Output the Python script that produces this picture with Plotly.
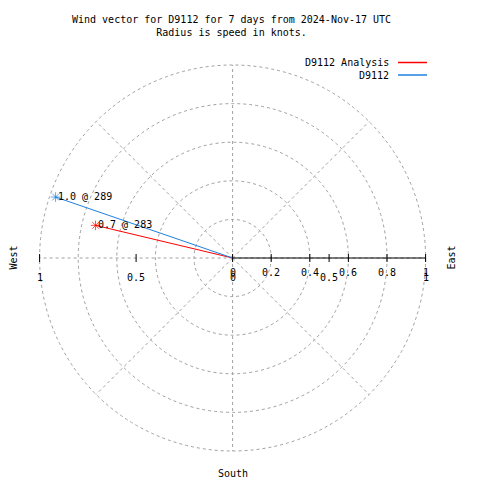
import math
import plotly.graph_objects as go

# ---- data ----
series_names = ["D9112 Analysis", "D9112"]
series_colors = ["#ff0000", "#1e80e0"]
speeds = [0.73, 0.97]          # knots
directions = [283.4, 289.0]    # degrees, compass (clockwise from north)

r_grid = [0.2, 0.4, 0.6, 0.8, 1.0]
spoke_angles = [0, 45, 90, 135, 180, 225, 270, 315]
r_ticks = [0, 0.2, 0.4, 0.6, 0.8, 1]
r_tick_labels = ["0", "0.2", "0.4", "0.6", "0.8", "1"]
x_ticks = [-1, -0.5, 0, 0.5, 1]
x_tick_labels = ["1", "0.5", "0", "0.5", "1"]

title_text = "Wind vector for D9112 for 7 days from 2024-Nov-17 UTC<br>Radius is speed in knots."

FONT = "DejaVu Sans Mono"
GRID = "#a0a0a0"

fig = go.Figure()

# vectors
for name, col, sp, d in zip(series_names, series_colors, speeds, directions):
    th = math.radians(d)
    x = sp * math.sin(th)
    y = sp * math.cos(th)
    fig.add_trace(go.Scatter(
        x=[0, x], y=[0, y], mode="lines+markers", name=name,
        line=dict(color=col, width=1),
        marker=dict(symbol=["circle-open", "asterisk-open"], size=[0, 8],
                    color=col, line=dict(color=col, width=1)),
        showlegend=False, hoverinfo="skip"))
    fig.add_annotation(x=x, y=y, xref="x", yref="y", text=f"{sp:.1f} @ {d:.0f}",
                       showarrow=False, xanchor="left", yanchor="middle", xshift=0, yshift=1,
                       font=dict(family=FONT, size=10, color="black"))

shapes = []
# grid circles
for r in r_grid:
    shapes.append(dict(type="circle", xref="x", yref="y", x0=-r, y0=-r, x1=r, y1=r,
                       line=dict(color=GRID, width=1, dash="3px,3px"), layer="below"))
# spokes
for a in spoke_angles:
    th = math.radians(a)
    shapes.append(dict(type="line", xref="x", yref="y", x0=0, y0=0,
                       x1=max(r_grid) * math.sin(th), y1=max(r_grid) * math.cos(th),
                       line=dict(color=GRID, width=1, dash="3px,3px"), layer="below"))
# radial axis line
shapes.append(dict(type="line", xref="x", yref="y", x0=0, y0=0, x1=max(r_ticks), y1=0,
                   line=dict(color="black", width=1)))
# ticks
for t in sorted(set(r_ticks + x_ticks)):
    shapes.append(dict(type="line", xref="x", yref="y", ysizemode="pixel", yanchor=0,
                       x0=t, x1=t, y0=-4, y1=4, line=dict(color="black", width=1)))

fig.update_layout(shapes=shapes)

# tick labels
for t, lab in zip(r_ticks, r_tick_labels):
    fig.add_annotation(x=t, y=0, xref="x", yref="y", text=lab, showarrow=False,
                       xanchor="center", yanchor="middle", yshift=-14,
                       font=dict(family=FONT, size=10, color="black"))
for t, lab in zip(x_ticks, x_tick_labels):
    fig.add_annotation(x=t, y=0, xref="x", yref="y", text=lab, showarrow=False,
                       xanchor="center", yanchor="middle", yshift=-19,
                       font=dict(family=FONT, size=10, color="black"))

# compass labels
fig.add_annotation(x=-1, y=0, xref="x", yref="y", text="West", showarrow=False,
                   textangle=-90, xshift=-27, font=dict(family=FONT, size=10, color="black"))
fig.add_annotation(x=1, y=0, xref="x", yref="y", text="East", showarrow=False,
                   textangle=-90, xshift=25, font=dict(family=FONT, size=10, color="black"))
fig.add_annotation(x=0, y=-1, xref="x", yref="y", text="South", showarrow=False,
                   yshift=-22, font=dict(family=FONT, size=10, color="black"))

# title
fig.add_annotation(x=231.5 / 480, y=1 - 26.5 / 480, xref="paper", yref="paper",
                   text=title_text, showarrow=False, xanchor="center", yanchor="middle",
                   font=dict(family=FONT, size=10, color="black"))

# legend (manual, gnuplot style)
leg_y = [62.5, 75]
for name, col, yy in zip(series_names, series_colors, leg_y):
    fig.add_annotation(x=391 / 480, y=1 - yy / 480, xref="paper", yref="paper",
                       text=name, showarrow=False, xanchor="right", yanchor="middle",
                       font=dict(family=FONT, size=10, color="black"))
    fig.add_shape(type="line", xref="paper", yref="paper", x0=398 / 480, x1=427 / 480,
                  y0=1 - yy / 480, y1=1 - yy / 480, line=dict(color=col, width=1.5))

cx, cy, scale = 232.6, 258.0, 193.0
fig.update_layout(
    width=480, height=480, autosize=False,
    margin=dict(l=0, r=0, t=0, b=0, pad=0),
    paper_bgcolor="white", plot_bgcolor="white",
    xaxis=dict(range=[-cx / scale, (480 - cx) / scale], visible=False, fixedrange=True),
    yaxis=dict(range=[-(480 - cy) / scale, cy / scale], visible=False, fixedrange=True),
    showlegend=False,
)

fig.write_html("out.html", config={"displayModeBar": False},
               post_script="document.body.style.margin='0';document.body.style.padding='0';")
